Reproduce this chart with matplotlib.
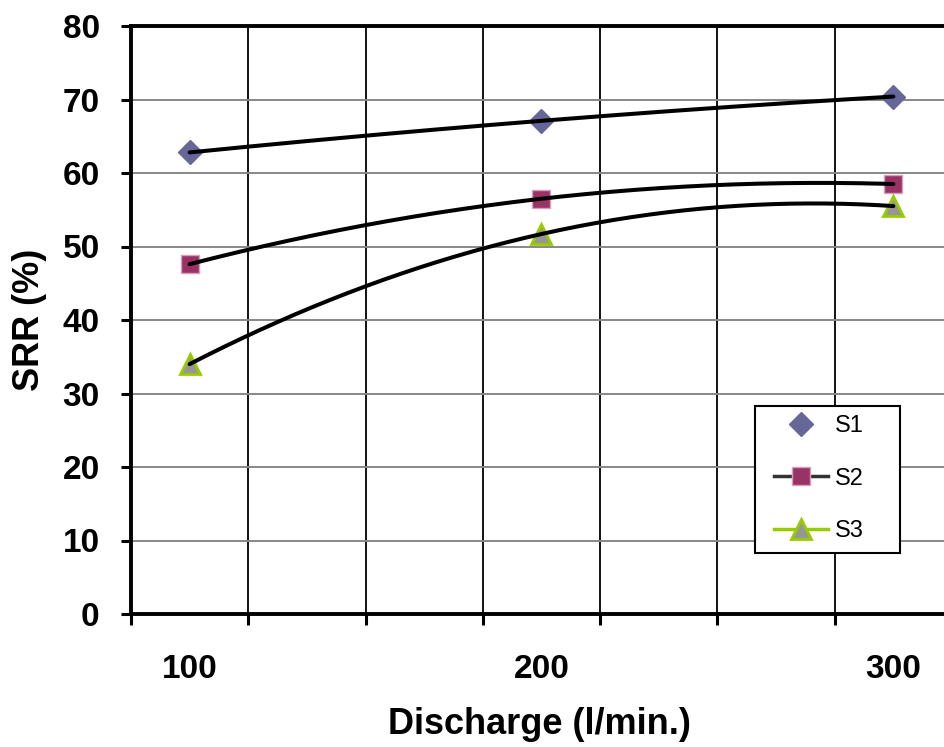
import numpy as np
import matplotlib.pyplot as plt
from matplotlib.lines import Line2D
from matplotlib.patches import Rectangle

plt.rcParams['font.family'] = ['Liberation Sans', 'DejaVu Sans']
plt.rcParams['font.weight'] = 'bold'

# Discharge categories and SRR (%) for the three samples
discharge = ['100', '200', '300']
pos = [0.5, 3.5, 6.5]          # category centres on the axis
s1 = [62.8, 67.1, 70.4]
s2 = [47.6, 56.5, 58.5]
s3 = [34.0, 51.7, 55.5]

fig = plt.figure(figsize=(9.45, 7.47), dpi=100)
# right edge of the plot area runs slightly past the figure, as in the original
ax = fig.add_axes([131 / 945, 1 - 614 / 747, 821 / 945, 588 / 747])

# markers
ax.plot(pos, s1, ls='none', marker='D', ms=12, mfc='#666699', mec='#666699', zorder=3)
ax.plot(pos, s2, ls='none', marker='s', ms=13, mfc='#993366', mec='#d8a0b8', mew=1, zorder=3)
ax.plot(pos, s3, ls='none', marker='^', ms=15, mfc='#969696', mec='#99cc00', mew=2, zorder=3)

# 2nd order polynomial trendlines (black), from first to last point
xs = np.linspace(pos[0], pos[-1], 200)
for ys in (s1, s2, s3):
    c = np.polyfit(pos, ys, 2)
    ax.plot(xs, np.polyval(c, xs), color='black', lw=2.9, zorder=4, solid_capstyle='round')

ax.set_xlim(0, 7)
ax.set_ylim(0, 80)
ax.set_yticks(range(0, 81, 10))
ax.set_xticks(range(8))
ax.set_xticks(pos, minor=True)
ax.set_xticklabels(discharge, minor=True)
ax.tick_params(axis='x', which='major', length=8, width=2.2, labelbottom=False)
ax.tick_params(axis='x', which='minor', length=0, pad=29, labelsize=24)
ax.tick_params(axis='y', length=7.5, width=2.2, pad=15, labelsize=24)

ax.set_axisbelow(True)
ax.grid(axis='x', which='major', color='black', lw=1.3)
ax.grid(axis='y', color='#888888', lw=1.4)
for side in ('left', 'bottom', 'top'):
    ax.spines[side].set_linewidth(2.8)
ax.spines['right'].set_visible(False)

ax.set_xlabel('Discharge (l/min.)', fontsize=26, fontweight='bold')
ax.set_ylabel('SRR (%)', fontsize=26, fontweight='bold')
ax.xaxis.set_label_coords(0.497, -(707 - 614) / 588)
ax.xaxis.label.set_va('top')
ax.yaxis.set_label_coords((47 - 131) / 821, 0.5)

# legend
handles = [
    Line2D([], [], ls='none', marker='D', ms=12, mfc='#666699', mec='#666699'),
    Line2D([], [], color='#333333', lw=2.5, marker='s', ms=13, mfc='#993366', mec='#d8a0b8', mew=1),
    Line2D([], [], color='#99cc00', lw=2.5, marker='^', ms=15, mfc='#969696', mec='#99cc00', mew=2),
]
fig.add_artist(Rectangle((755 / 945, 1 - 553 / 747), 145 / 945, 147 / 747,
                         transform=fig.transFigure, facecolor='white',
                         edgecolor='black', lw=1.5, zorder=5))
leg = fig.legend(handles, ['S1', 'S2', 'S3'], loc='upper left',
                 bbox_to_anchor=(774 / 945, 1 - 415 / 747), frameon=False,
                 prop={'size': 17, 'weight': 'normal'}, handlelength=2.3,
                 handletextpad=0.3, labelspacing=1.3, borderpad=0, borderaxespad=0)
leg.set_zorder(6)

fig.savefig('out.png', dpi=100)
